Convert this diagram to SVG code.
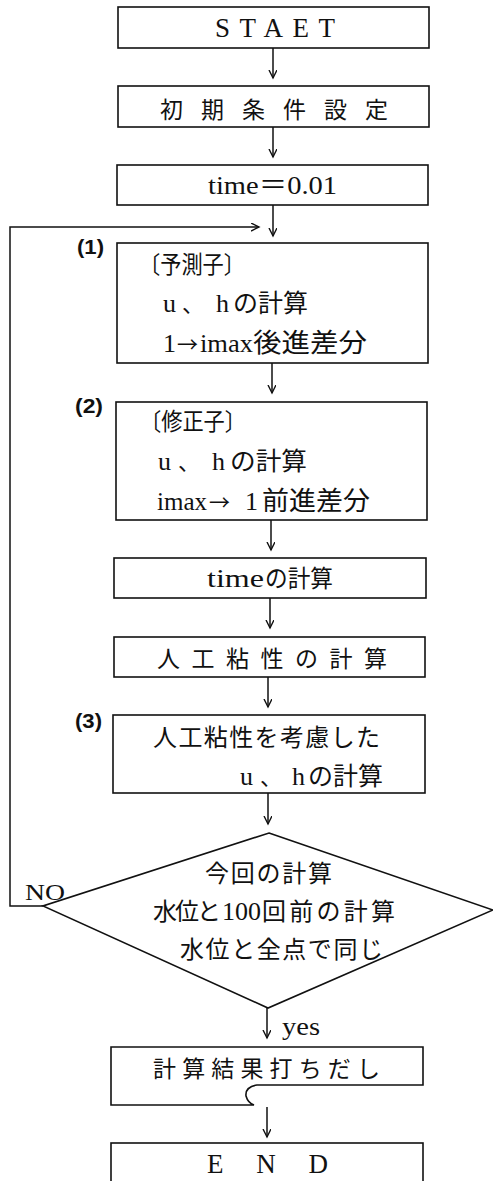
<svg xmlns="http://www.w3.org/2000/svg" width="493" height="1181" viewBox="0 0 493 1181">
<style>
.box{fill:#fff;stroke:#111;stroke-width:1.6}
.ln{fill:none;stroke:#111;stroke-width:1.5}
.t{font-family:"Liberation Serif","Noto Sans CJK JP",serif;fill:#111}
.ar{font-family:"Noto Sans CJK JP",sans-serif;font-size:21px}
.lab{font-family:"Liberation Sans","Noto Sans",sans-serif;font-size:20px;font-weight:bold;fill:#111}
</style>
<defs>
<marker id="ah" markerWidth="10" markerHeight="10" refX="8" refY="4" orient="auto" markerUnits="userSpaceOnUse">
<path d="M0,0 L8,4 L0,8" fill="none" stroke="#111" stroke-width="1.4"/>
</marker>
</defs>
<rect width="493" height="1181" fill="#fff"/>
<g id="connectors">
<line class="ln" x1="273" y1="48" x2="273" y2="78" marker-end="url(#ah)"/>
<line class="ln" x1="273" y1="127" x2="273" y2="157" marker-end="url(#ah)"/>
<line class="ln" x1="273" y1="205" x2="273" y2="236" marker-end="url(#ah)"/>
<line class="ln" x1="272" y1="363" x2="272" y2="393" marker-end="url(#ah)"/>
<line class="ln" x1="271" y1="520" x2="271" y2="550" marker-end="url(#ah)"/>
<line class="ln" x1="270" y1="598" x2="270" y2="628" marker-end="url(#ah)"/>
<line class="ln" x1="268" y1="677" x2="268" y2="707" marker-end="url(#ah)"/>
<line class="ln" x1="268" y1="793" x2="268" y2="824" marker-end="url(#ah)"/>
<line class="ln" x1="267" y1="1008" x2="267" y2="1038" marker-end="url(#ah)"/>
<line class="ln" x1="267" y1="1107" x2="267" y2="1137" marker-end="url(#ah)"/>
<path class="ln" d="M43,906 H10 V227 H259" marker-end="url(#ah)"/>
<text class="t" x="25" y="900" font-size="24" textLength="40" lengthAdjust="spacingAndGlyphs">NO</text>
<text class="t" x="282" y="1035" font-size="25" textLength="38" lengthAdjust="spacingAndGlyphs">yes</text>
</g>
<g id="start">
<rect class="box" x="118" y="7" width="311" height="41"/>
<text class="t" x="215" y="37" font-size="27" textLength="120" lengthAdjust="spacing">STAET</text>
</g>
<g id="init">
<rect class="box" x="118" y="86" width="311" height="41"/>
<text class="t" x="160" y="118" font-size="23" textLength="228" lengthAdjust="spacing">初期条件設定</text>
</g>
<g id="time0">
<rect class="box" x="117" y="165" width="311" height="40"/>
<text class="t" x="208" y="194" font-size="26" textLength="129" lengthAdjust="spacingAndGlyphs">time＝0.01</text>
</g>
<g id="predictor">
<text class="lab" x="77" y="254" textLength="27" lengthAdjust="spacingAndGlyphs">(1)</text>
<rect class="box" x="117" y="243" width="311" height="120"/>
<text class="t" x="139" y="273" font-size="24" textLength="106" lengthAdjust="spacingAndGlyphs">〔予測子〕</text>
<text class="t" y="312" font-size="26"><tspan x="163">u</tspan><tspan x="182" font-size="22">、</tspan><tspan x="216">h</tspan><tspan x="233" font-size="25" textLength="75" lengthAdjust="spacingAndGlyphs">の計算</tspan></text>
<text class="t" y="352" font-size="26"><tspan x="163">1</tspan><tspan x="177" class="ar">→</tspan><tspan x="200" textLength="53" lengthAdjust="spacingAndGlyphs">imax</tspan><tspan x="253" font-size="26" textLength="114" lengthAdjust="spacingAndGlyphs">後進差分</tspan></text>
</g>
<g id="corrector">
<text class="lab" x="75" y="413" textLength="28" lengthAdjust="spacingAndGlyphs">(2)</text>
<rect class="box" x="116" y="402" width="311" height="118"/>
<text class="t" x="140" y="430" font-size="24" textLength="106" lengthAdjust="spacingAndGlyphs">〔修正子〕</text>
<text class="t" y="470" font-size="26"><tspan x="158">u</tspan><tspan x="178" font-size="22">、</tspan><tspan x="212">h</tspan><tspan x="230" font-size="25" textLength="77" lengthAdjust="spacingAndGlyphs">の計算</tspan></text>
<text class="t" y="510" font-size="26"><tspan x="157" textLength="50" lengthAdjust="spacingAndGlyphs">imax</tspan><tspan x="209" class="ar">→</tspan><tspan x="245">1</tspan><tspan x="262" textLength="108" lengthAdjust="spacingAndGlyphs">前進差分</tspan></text>
</g>
<g id="timecalc">
<rect class="box" x="114" y="558" width="312" height="40"/>
<text class="t" y="587" font-size="26"><tspan x="207" textLength="57" lengthAdjust="spacingAndGlyphs">time</tspan><tspan x="265" font-size="24" textLength="68" lengthAdjust="spacingAndGlyphs">の計算</tspan></text>
</g>
<g id="visc">
<rect class="box" x="114" y="637" width="311" height="40"/>
<text class="t" x="157" y="667" font-size="23" textLength="230" lengthAdjust="spacing">人工粘性の計算</text>
</g>
<g id="uhvisc">
<text class="lab" x="75" y="728" textLength="27" lengthAdjust="spacingAndGlyphs">(3)</text>
<rect class="box" x="113" y="715" width="312" height="78"/>
<text class="t" x="153" y="746" font-size="24" textLength="227" lengthAdjust="spacing">人工粘性を考慮した</text>
<text class="t" y="785" font-size="26"><tspan x="240">u</tspan><tspan x="260" font-size="22">、</tspan><tspan x="292">h</tspan><tspan x="308" font-size="25" textLength="75" lengthAdjust="spacingAndGlyphs">の計算</tspan></text>
</g>
<g id="decision">
<polygon class="box" points="269,833 493,910 268,1008 43,906"/>
<text class="t" x="205" y="882" font-size="24" textLength="127" lengthAdjust="spacing">今回の計算</text>
<text class="t" y="920" font-size="24"><tspan x="153" textLength="68" lengthAdjust="spacing">水位と</tspan><tspan x="222" font-size="26" textLength="39" lengthAdjust="spacingAndGlyphs">100</tspan><tspan x="262" textLength="133" lengthAdjust="spacing">回前の計算</tspan></text>
<text class="t" x="180" y="958" font-size="24" textLength="203" lengthAdjust="spacing">水位と全点で同じ</text>
</g>
<g id="output">
<path class="box" d="M111,1047 H423 V1085 H257 Q245,1087 246,1096 Q248,1103 254,1105 H111 Z"/>
<text class="t" x="153" y="1077" font-size="23" textLength="227" lengthAdjust="spacing">計算結果打ちだし</text>
</g>
<g id="end">
<rect class="box" x="111" y="1143" width="312" height="50"/>
<text class="t" x="207" y="1173" font-size="27" textLength="121" lengthAdjust="spacing">END</text>
</g>
</svg>
